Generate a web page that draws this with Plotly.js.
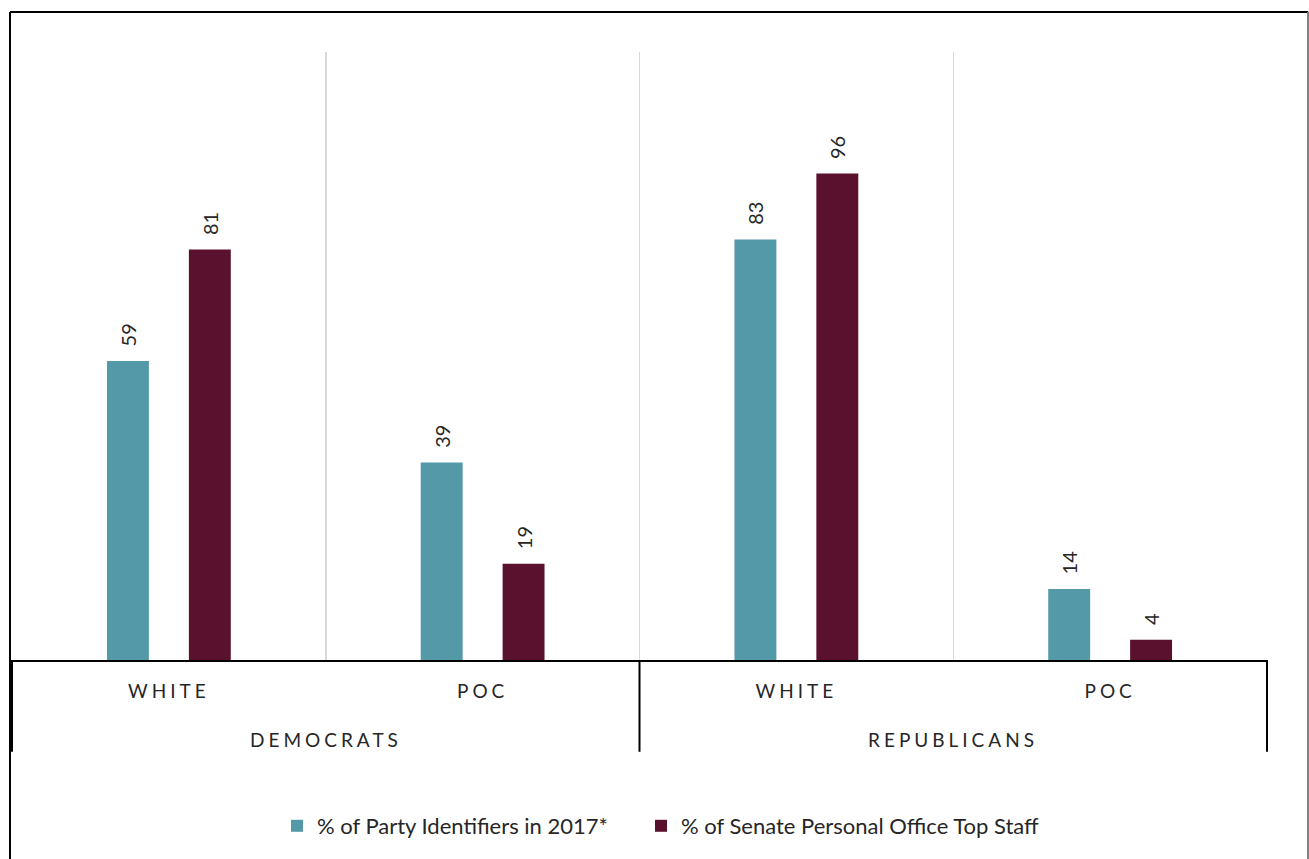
<!DOCTYPE html>
<html>
<head>
<meta charset="utf-8">
<script src="https://cdn.plot.ly/plotly-3.0.1.min.js"></script>
<style>
  body { margin: 0; background: #fff; }
  #chart { width: 1309px; height: 859px; }
  .xaxislayer-above text, .annotation-text-g text { letter-spacing: 4px; }
</style>
</head>
<body>
<div id="chart"></div>
<script>
// ---- data ----
const parties = ['DEMOCRATS', 'DEMOCRATS', 'REPUBLICANS', 'REPUBLICANS'];
const races = ['WHITE', 'POC', 'WHITE', 'POC'];
const partyIdentifiers = [59, 39, 83, 14];
const seniorStaff = [81, 19, 96, 4];
const seriesNames = ['% of Party Identifiers in 2017*', '% of Senate Personal Office Top Staff'];
const seriesColors = ['#5399A8', '#5A112E'];

const FONT = 'Lato, "Open Sans", sans-serif';
const TEXT = '#262626';

// unique category keys (party + race), labelled with the race only
const xKeys = parties.map((p, i) => p + ' ' + races[i]);
const partyNames = [...new Set(parties)];

function barTrace(name, values, color, legendId) {
  return {
    type: 'bar',
    name: name,
    legend: legendId,
    x: xKeys,
    y: values,
    marker: { color: color },
    text: values.map(v => '\u2007' + v),
    textposition: 'outside',
    textangle: -90,
    cliponaxis: false,
    outsidetextfont: { family: FONT, size: 20, color: TEXT },
    hoverinfo: 'y'
  };
}

const data = [
  barTrace(seriesNames[0], partyIdentifiers, seriesColors[0], 'legend'),
  barTrace(seriesNames[1], seniorStaff, seriesColors[1], 'legend2')
];

// party labels centred under their categories, dividers at party boundaries
const annotations = partyNames.map(p => {
  const idx = parties.map((q, i) => q === p ? i : -1).filter(i => i >= 0);
  const centre = (idx[0] + idx[idx.length - 1]) / 2;
  return {
    text: p, xref: 'x', yref: 'paper', x: centre, y: -0.13,
    xanchor: 'center', yanchor: 'middle', showarrow: false,
    font: { family: FONT, size: 19, color: TEXT }
  };
});

const dividerPositions = [-0.5];
parties.forEach((p, i) => {
  if (i === parties.length - 1 || parties[i + 1] !== p) dividerPositions.push(i + 0.5);
});

const shapes = dividerPositions.map(x => ({
  type: 'line', xref: 'x', yref: 'paper', x0: x, x1: x, y0: 0, y1: -0.151,
  line: { color: '#000000', width: 2 }
}));
// chart frame
shapes.push(
  { type: 'line', xref: 'paper', yref: 'paper', x0: -0.0008, x1: 1.032, y0: 1.0658, y1: 1.0658, line: { color: '#000000', width: 2 } },
  { type: 'line', xref: 'paper', yref: 'paper', x0: -0.0008, x1: -0.0008, y0: 1.0658, y1: -0.36, line: { color: '#000000', width: 2 } },
  { type: 'line', xref: 'paper', yref: 'paper', x0: 1.0318, x1: 1.0318, y0: 1.0658, y1: -0.36, line: { color: '#7f7f7f', width: 2 } }
);

const legendBase = {
  orientation: 'h',
  xanchor: 'left',
  y: -0.273, yanchor: 'middle',
  font: { family: FONT, size: 22, color: TEXT },
  itemclick: false,
  bgcolor: 'rgba(0,0,0,0)'
};

const layout = {
  width: 1309,
  height: 859,
  margin: { l: 11, r: 41, t: 52, b: 199 },
  paper_bgcolor: '#ffffff',
  plot_bgcolor: '#ffffff',
  font: { family: FONT, size: 19, color: TEXT },
  barmode: 'group',
  bargap: 0.478,
  bargroupgap: 0.488,
  showlegend: true,
  legend: Object.assign({}, legendBase, { x: 0.2116 }),
  legend2: Object.assign({}, legendBase, { x: 0.5012 }),
  xaxis: {
    type: 'category',
    tickmode: 'array',
    tickvals: xKeys,
    ticktext: races,
    tickson: 'boundaries',
    showgrid: true,
    gridcolor: '#d9d9d9',
    gridwidth: 1.5,
    showline: true,
    linecolor: '#000000',
    linewidth: 2,
    ticks: '',
    ticklabelstandoff: 13,
    tickfont: { family: FONT, size: 19, color: TEXT },
    zeroline: false
  },
  yaxis: {
    range: [0, 120],
    showgrid: false,
    showticklabels: false,
    zeroline: false,
    showline: false,
    ticks: ''
  },
  annotations: annotations,
  shapes: shapes
};

Plotly.newPlot('chart', data, layout, { displayModeBar: false, staticPlot: true });
</script>
</body>
</html>
